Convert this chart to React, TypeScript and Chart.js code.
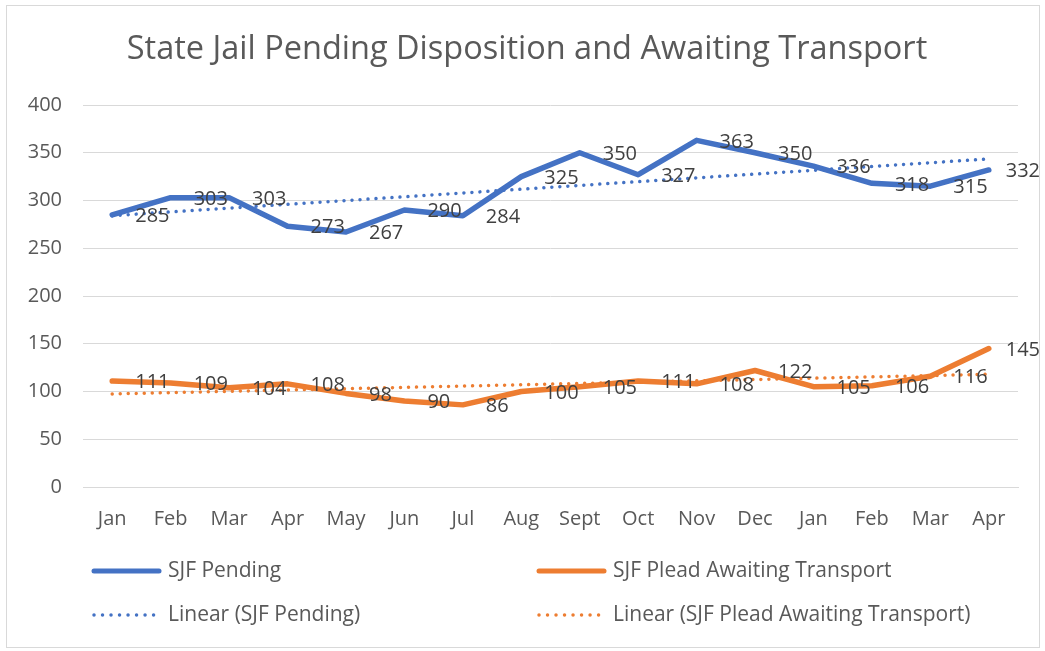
import React, { useEffect, useRef } from "react";
import { Chart, registerables } from "chart.js";

Chart.register(...registerables);

const categories = ["Jan", "Feb", "Mar", "Apr", "May", "Jun", "Jul", "Aug", "Sept", "Oct", "Nov", "Dec", "Jan", "Feb", "Mar", "Apr"];
const sjfPending = [285, 303, 303, 273, 267, 290, 284, 325, 350, 327, 363, 350, 336, 318, 315, 332];
const sjfPlead = [111, 109, 104, 108, 98, 90, 86, 100, 105, 111, 108, 122, 105, 106, 116, 145];
const yTicks = [0, 50, 100, 150, 200, 250, 300, 350, 400];

const titleText = "State Jail Pending Disposition and Awaiting Transport";
const seriesNames = ["SJF Pending", "SJF Plead Awaiting Transport"];
const trendNames = ["Linear (SJF Pending)", "Linear (SJF Plead Awaiting Transport)"];

const BLUE = "#4472C4";
const ORANGE = "#ED7D31";
const FONT = "'Open Sans', 'Noto Sans', sans-serif";
const TXT = "#595959";

function linearTrend(values: number[]): number[] {
  const n = values.length;
  let sx = 0, sy = 0, sxx = 0, sxy = 0;
  values.forEach((v, i) => {
    const x = i + 1;
    sx += x; sy += v; sxx += x * x; sxy += x * v;
  });
  const b = (n * sxy - sx * sy) / (n * sxx - sx * sx);
  const a = (sy - b * sx) / n;
  return values.map((_, i) => a + b * (i + 1));
}

const decorPlugin = {
  id: "decor",
  afterDatasetsDraw(chart: any) {
    const ctx = chart.ctx as CanvasRenderingContext2D;
    ctx.save();
    ctx.font = `20px ${FONT}`;
    ctx.fillStyle = "#404040";
    ctx.textAlign = "left";
    ctx.textBaseline = "middle";
    [0, 1].forEach((di) => {
      const meta = chart.getDatasetMeta(di);
      const vals = chart.data.datasets[di].data as number[];
      meta.data.forEach((pt: any, i: number) => {
        const t = String(vals[i]);
        const w = ctx.measureText(t).width;
        const x = Math.min(pt.x + 23, 1040 - w);
        ctx.fillText(t, x, pt.y + 1.5);
      });
    });
    ctx.restore();
  },
  afterDraw(chart: any) {
    const ctx = chart.ctx as CanvasRenderingContext2D;
    ctx.save();
    ctx.strokeStyle = "#d9d9d9";
    ctx.lineWidth = 1;
    ctx.strokeRect(6.5, 5.5, 1033, 642);
    ctx.font = `32.5px ${FONT}`;
    ctx.fillStyle = TXT;
    ctx.textAlign = "center";
    ctx.textBaseline = "middle";
    ctx.fillText(titleText, 527, 50);
    const items = [
      { x: 92, y: 571, color: BLUE, dotted: false, label: seriesNames[0] },
      { x: 537, y: 571, color: ORANGE, dotted: false, label: seriesNames[1] },
      { x: 92, y: 615, color: BLUE, dotted: true, label: trendNames[0] },
      { x: 537, y: 615, color: ORANGE, dotted: true, label: trendNames[1] },
    ];
    ctx.font = `21px ${FONT}`;
    ctx.textAlign = "left";
    items.forEach((it) => {
      ctx.beginPath();
      ctx.strokeStyle = it.color;
      if (it.dotted) {
        ctx.lineWidth = 3.5;
        ctx.lineCap = "round";
        ctx.setLineDash([0.01, 8.5]);
        ctx.moveTo(it.x + 2, it.y);
        ctx.lineTo(it.x + 68, it.y);
      } else {
        ctx.lineWidth = 5;
        ctx.lineCap = "round";
        ctx.setLineDash([]);
        ctx.moveTo(it.x + 2, it.y);
        ctx.lineTo(it.x + 67, it.y);
      }
      ctx.stroke();
      ctx.setLineDash([]);
      ctx.fillStyle = TXT;
      ctx.fillText(it.label, it.x + 76, it.y);
    });
    ctx.restore();
  },
};

export default function App() {
  const ref = useRef<HTMLCanvasElement | null>(null);
  useEffect(() => {
    if (!ref.current) return;
    const chart = new Chart(ref.current, {
      type: "line",
      data: {
        labels: categories,
        datasets: [
          { label: seriesNames[0], data: sjfPending, borderColor: BLUE, backgroundColor: BLUE, borderWidth: 5.5, pointRadius: 0, tension: 0, borderJoinStyle: "round", borderCapStyle: "round", order: 2 },
          { label: seriesNames[1], data: sjfPlead, borderColor: ORANGE, backgroundColor: ORANGE, borderWidth: 5.5, pointRadius: 0, tension: 0, borderJoinStyle: "round", borderCapStyle: "round", order: 2 },
          { label: trendNames[0], data: linearTrend(sjfPending), borderColor: BLUE, borderWidth: 3.5, pointRadius: 0, borderDash: [0.01, 8], borderCapStyle: "round", order: 1 },
          { label: trendNames[1], data: linearTrend(sjfPlead), borderColor: ORANGE, borderWidth: 3.5, pointRadius: 0, borderDash: [0.01, 8], borderCapStyle: "round", order: 1 },
        ],
      },
      options: {
        responsive: false,
        animation: false,
        layout: { padding: { left: 0, right: 27, top: 105, bottom: 0 } },
        plugins: { legend: { display: false }, title: { display: false }, tooltip: { enabled: false } },
        scales: {
          x: {
            offset: true,
            grid: { display: false, drawTicks: false },
            border: { display: true, color: "#d9d9d9", width: 1 },
            ticks: { color: TXT, font: { family: FONT, size: 20 }, padding: 20, maxRotation: 0, autoSkip: false },
            afterFit: (s: any) => { s.height = 164; },
          },
          y: {
            min: 0,
            max: 400,
            afterBuildTicks: (s: any) => { s.ticks = yTicks.map((v) => ({ value: v })); },
            grid: { color: "#d9d9d9", lineWidth: 1, drawTicks: false },
            border: { display: false },
            ticks: { color: TXT, font: { family: FONT, size: 20 }, padding: 21 },
            afterFit: (s: any) => { s.width = 83; },
          },
        },
      },
      plugins: [decorPlugin],
    });
    return () => chart.destroy();
  }, []);
  return (
    <div style={{ position: "fixed", left: 0, top: 0, width: 1045, height: 651, background: "#fff" }}>
      <canvas ref={ref} width={1045} height={651} style={{ width: 1045, height: 651, display: "block" }} />
    </div>
  );
}
